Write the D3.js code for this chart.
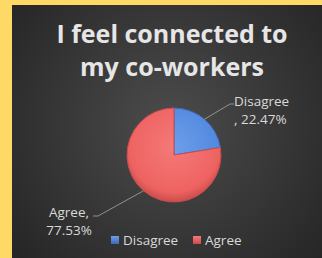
<!DOCTYPE html>
<html>
<head>
<meta charset="utf-8">
<script src="https://cdn.jsdelivr.net/npm/d3@7"></script>
<style>
  html, body { margin: 0; padding: 0; background: #ffd966; }
  svg { display: block; }
</style>
</head>
<body>
<div id="chart"></div>
<script>
const categories = ["Disagree", "Agree"]
const values = [22.47, 77.53]
const titleLines = ["I feel connected to", "my co-workers"]

const width = 322
const height = 258
const font = "'Open Sans', 'DejaVu Sans', sans-serif"

const svg = d3.select("#chart").append("svg")
  .attr("width", width)
  .attr("height", height)

const defs = svg.append("defs")

// panel background, lighter in the middle
const bg = defs.append("radialGradient")
  .attr("id", "bg")
  .attr("gradientUnits", "userSpaceOnUse")
  .attr("cx", 170).attr("cy", 125).attr("r", 200)
bg.append("stop").attr("offset", "0%").attr("stop-color", "#4c4c4c")
bg.append("stop").attr("offset", "100%").attr("stop-color", "#262626")

const colors = d3.scaleOrdinal()
  .domain(categories)
  .range(["#5289de", "#ee6362"])
const lightColors = d3.scaleOrdinal()
  .domain(categories)
  .range(["#6d9eea", "#f47a78"])
const darkColors = d3.scaleOrdinal()
  .domain(categories)
  .range(["#3e6ab8", "#c94c4b"])

const cx = 174
const cy = 155
const radius = 47

// gradients live in the pie group's coordinates (centre = 0,0)
categories.forEach((c, i) => {
  const g = defs.append("radialGradient")
    .attr("id", "slice" + i)
    .attr("gradientUnits", "userSpaceOnUse")
    .attr("cx", 0).attr("cy", -8).attr("r", radius + 8)
  g.append("stop").attr("offset", "0%").attr("stop-color", lightColors(c))
  g.append("stop").attr("offset", "82%").attr("stop-color", colors(c))
  g.append("stop").attr("offset", "100%").attr("stop-color", darkColors(c))

  const lg = defs.append("linearGradient")
    .attr("id", "leg" + i)
    .attr("x1", 0).attr("y1", 0).attr("x2", 0).attr("y2", 1)
  lg.append("stop").attr("offset", "0%").attr("stop-color", lightColors(c))
  lg.append("stop").attr("offset", "100%").attr("stop-color", darkColors(c))
})

svg.append("rect")
  .attr("x", 12).attr("y", 5)
  .attr("width", width - 12).attr("height", height - 5)
  .attr("fill", "url(#bg)")

// title
svg.append("g")
  .selectAll("text")
  .data(titleLines)
  .join("text")
  .attr("x", 172)
  .attr("y", (d, i) => 43 + i * 33)
  .attr("text-anchor", "middle")
  .attr("font-family", font)
  .attr("font-weight", "bold")
  .attr("font-size", 25)
  .attr("fill", "#e6e6e6")
  .text(d => d)

// pie
const pie = d3.pie().sort(null).value(d => d)
const arcs = pie(values)
const arc = d3.arc().innerRadius(0).outerRadius(radius)

const pieG = svg.append("g").attr("transform", `translate(${cx},${cy})`)

pieG.selectAll("path")
  .data(arcs)
  .join("path")
  .attr("d", arc)
  .attr("fill", (d, i) => `url(#slice${i})`)
  .attr("stroke", (d, i) => darkColors(categories[i]))
  .attr("stroke-width", 1)

// leader lines + data labels
const labelStyle = sel => sel
  .attr("font-family", font)
  .attr("font-size", 13.5)
  .attr("fill", "#d9d9d9")

const edge = d3.arc().innerRadius(radius).outerRadius(radius)

const labels = [
  { lines: [categories[0], ", " + values[0].toFixed(2) + "%"], x: 234, y: 106, anchor: "start",
    bend: [230, 104], end: [234, 104] },
  { lines: [categories[1] + ",", values[1].toFixed(2) + "%"], x: 69, y: 217, anchor: "middle",
    bend: [98, 216], end: [93, 216] }
]

labels.forEach((l, i) => {
  const [ex, ey] = edge.centroid(arcs[i])
  svg.append("polyline")
    .attr("points", [[cx + ex, cy + ey], l.bend, l.end].map(p => p.join(",")).join(" "))
    .attr("fill", "none")
    .attr("stroke", "#a6a6a6")
    .attr("stroke-width", 0.8)

  svg.append("g")
    .selectAll("text")
    .data(l.lines)
    .join("text")
    .attr("x", l.x)
    .attr("y", (d, j) => l.y + j * 18)
    .attr("text-anchor", l.anchor)
    .call(labelStyle)
    .text(d => d)
})

// legend
const legendX = d3.scaleOrdinal().domain(categories).range([111, 193])
const legend = svg.append("g")
  .selectAll("g")
  .data(categories)
  .join("g")
  .attr("transform", d => `translate(${legendX(d)},236)`)

legend.append("rect")
  .attr("width", 8).attr("height", 8)
  .attr("fill", (d, i) => `url(#leg${i})`)

legend.append("text")
  .attr("x", 12)
  .attr("y", 9)
  .call(labelStyle)
  .text(d => d)
</script>
</body>
</html>
